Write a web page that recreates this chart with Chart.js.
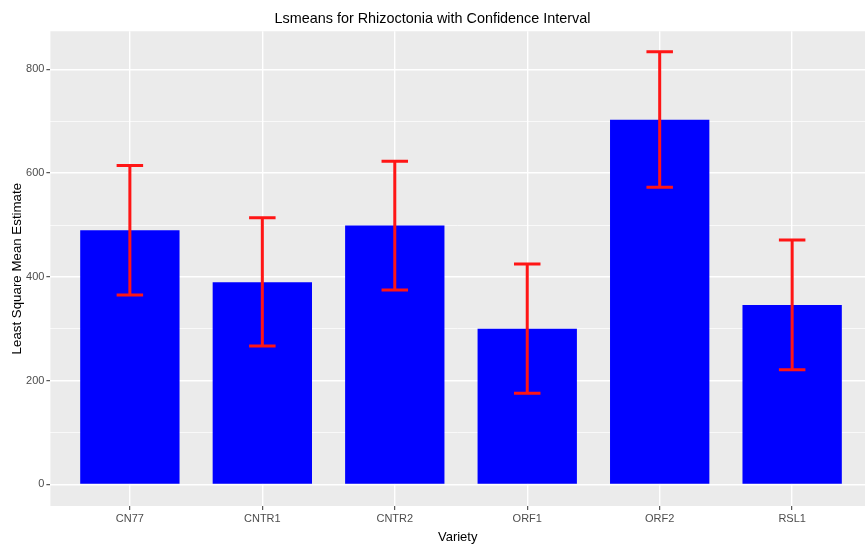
<!DOCTYPE html>
<html>
<head>
<meta charset="utf-8">
<script src="https://cdn.jsdelivr.net/npm/chart.js@4/dist/chart.umd.min.js"></script>
<style>
  html, body { margin: 0; padding: 0; background: #fff; overflow: hidden; }
  #lsChart { display: block; }
</style>
</head>
<body>
<canvas id="lsChart" width="865" height="550"></canvas>
<script>
const varieties = ['CN77', 'CNTR1', 'CNTR2', 'ORF1', 'ORF2', 'RSL1'];
const lsmeans = [490, 390, 499, 300, 703, 346];
const lowerCL = [365, 267, 375, 176, 573, 221];
const upperCL = [615, 514, 623, 425, 834, 471];
const yTicks = [0, 200, 400, 600, 800];

const FONT = "'Liberation Sans', Arial, sans-serif";

// grey ggplot panel behind the bars
const panelBg = {
  id: 'panelBg',
  beforeDraw(chart) {
    const { ctx, chartArea: a } = chart;
    ctx.save();
    ctx.fillStyle = '#EBEBEB';
    ctx.fillRect(a.left, a.top, a.right - a.left, a.bottom - a.top);
    ctx.restore();
  }
};

// confidence interval whiskers
const errorBars = {
  id: 'errorBars',
  afterDatasetsDraw(chart) {
    const { ctx, scales: { x, y } } = chart;
    ctx.save();
    ctx.strokeStyle = '#FF1515';
    ctx.lineWidth = 3;
    varieties.forEach((_, i) => {
      const cx = x.getPixelForValue(i);
      const l = x.getPixelForValue(i - 0.1);
      const r = x.getPixelForValue(i + 0.1);
      const top = y.getPixelForValue(upperCL[i]);
      const bot = y.getPixelForValue(lowerCL[i]);
      ctx.beginPath();
      ctx.moveTo(cx, top); ctx.lineTo(cx, bot);
      ctx.moveTo(l, top); ctx.lineTo(r, top);
      ctx.moveTo(l, bot); ctx.lineTo(r, bot);
      ctx.stroke();
    });
    ctx.restore();
  }
};

const isMajorY = v => yTicks.includes(v);

new Chart(document.getElementById('lsChart').getContext('2d'), {
  type: 'bar',
  data: {
    datasets: [{
      data: lsmeans.map((v, i) => ({ x: i, y: v })),
      backgroundColor: '#0000FF',
      borderWidth: 0,
      categoryPercentage: 0.75,
      barPercentage: 1
    }]
  },
  options: {
    responsive: false,
    animation: false,
    layout: { padding: 0 },
    plugins: {
      legend: { display: false },
      tooltip: { enabled: false },
      title: {
        display: true,
        text: 'Lsmeans for Rhizoctonia with Confidence Interval',
        color: '#000',
        font: { family: FONT, size: 14.4, weight: 'normal' },
        padding: { top: 10, bottom: 4 }
      }
    },
    scales: {
      x: {
        type: 'linear',
        offset: false,
        min: -0.6,
        max: 5.55,
        afterBuildTicks: s => { s.ticks = s.ticks.filter(t => Number.isInteger(t.value) && t.value >= 0 && t.value < varieties.length); },
        afterFit: s => { s.height = 44; },
        ticks: {
          stepSize: 1,
          autoSkip: false,
          maxRotation: 0,
          padding: 2,
          color: '#4D4D4D',
          font: { family: FONT, size: 11 },
          callback: v => varieties[v]
        },
        grid: {
          offset: false,
          color: '#FFFFFF',
          lineWidth: 1.4,
          drawTicks: true,
          tickLength: 4,
          tickColor: '#333333',
          tickWidth: 1
        },
        border: { display: false },
        title: {
          display: true,
          text: 'Variety',
          color: '#000',
          font: { family: FONT, size: 13 },
          padding: { top: 0, bottom: 5 }
        }
      },
      y: {
        min: -41.6,
        max: 873.6,
        afterBuildTicks: s => { s.ticks = s.ticks.filter(t => t.value >= 0 && t.value % 100 === 0); },
        afterFit: s => { s.width = 50.4; },
        ticks: {
          stepSize: 100,
          padding: 2,
          color: '#4D4D4D',
          font: { family: FONT, size: 11 },
          callback: v => isMajorY(v) ? String(v) : ''
        },
        grid: {
          color: '#FFFFFF',
          lineWidth: c => isMajorY(c.tick.value) ? 1.4 : 0.7,
          drawTicks: true,
          tickLength: 4,
          tickColor: c => isMajorY(c.tick.value) ? '#333333' : 'rgba(0,0,0,0)',
          tickWidth: 1
        },
        border: { display: false },
        title: {
          display: true,
          text: 'Least Square Mean Estimate',
          color: '#000',
          font: { family: FONT, size: 13.3 },
          padding: { top: 9, bottom: 0 }
        }
      }
    }
  },
  plugins: [panelBg, errorBars]
});
</script>
</body>
</html>
